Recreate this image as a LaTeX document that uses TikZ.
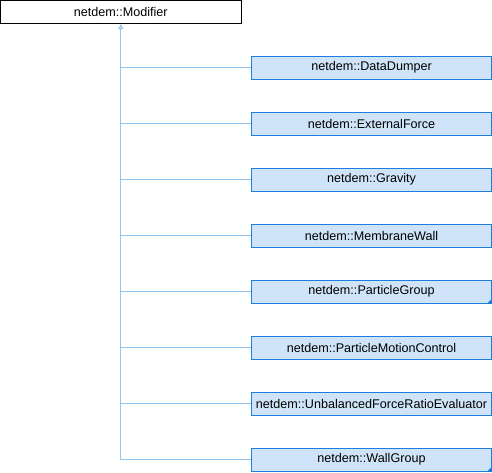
\documentclass[tikz,border=0pt]{standalone}
\usepackage{fontspec}
\setmainfont{Liberation Sans}
\usetikzlibrary{arrows.meta}
\definecolor{nodefill}{RGB}{208,228,249}
\definecolor{nodeborder}{RGB}{30,125,225}
\definecolor{edgecol}{RGB}{140,200,240}
\tikzset{
  base/.style={draw, line width=1pt, minimum width=240pt, minimum height=23pt, inner sep=0pt, font=\fontsize{12.6pt}{14pt}\selectfont},
  topbox/.style={base, draw=black, fill=white, minimum width=240.5pt},
  childbox/.style={base, draw=nodeborder, fill=nodefill},
  edge/.style={draw=edgecol, line width=1pt},
  folded/.style={fill=nodeborder}
}
\begin{document}
\begin{tikzpicture}[x=1pt,y=-1pt]
\useasboundingbox (0,0) rectangle (492,472);
\node[topbox] (top) at (120.75,12) {netdem::Modifier};
\node[childbox] (c1) at (371.5,67.5) {netdem::DataDumper};
\node[childbox] (c2) at (371.5,123.5) {netdem::ExternalForce};
\node[childbox] (c3) at (371.5,179.5) {netdem::Gravity};
\node[childbox] (c4) at (371.5,235.5) {netdem::MembraneWall};
\node[childbox] (c5) at (371.5,291.5) {netdem::ParticleGroup};
\node[childbox] (c6) at (371.5,347.5) {netdem::ParticleMotionControl};
\node[childbox] (c7) at (371.5,403.5) {netdem::UnbalancedForceRatioEvaluator};
\node[childbox] (c8) at (371.5,459.5) {netdem::WallGroup};
\fill[folded] (c5.south east) -- ++(-5,0) -- ++(5,-5) -- cycle;
\fill[folded] (c8.south east) -- ++(-5,0) -- ++(5,-5) -- cycle;
\foreach \c in {c1,c2,c3,c4,c5,c6,c7}{
  \draw[edge] (\c.west) -- (\c.west -| top.south);
}
\draw[edge,-{Triangle[open,fill=edgecol!40,width=5pt,length=5pt]}] (c8.west) -| (top.south);
\end{tikzpicture}
\end{document}
